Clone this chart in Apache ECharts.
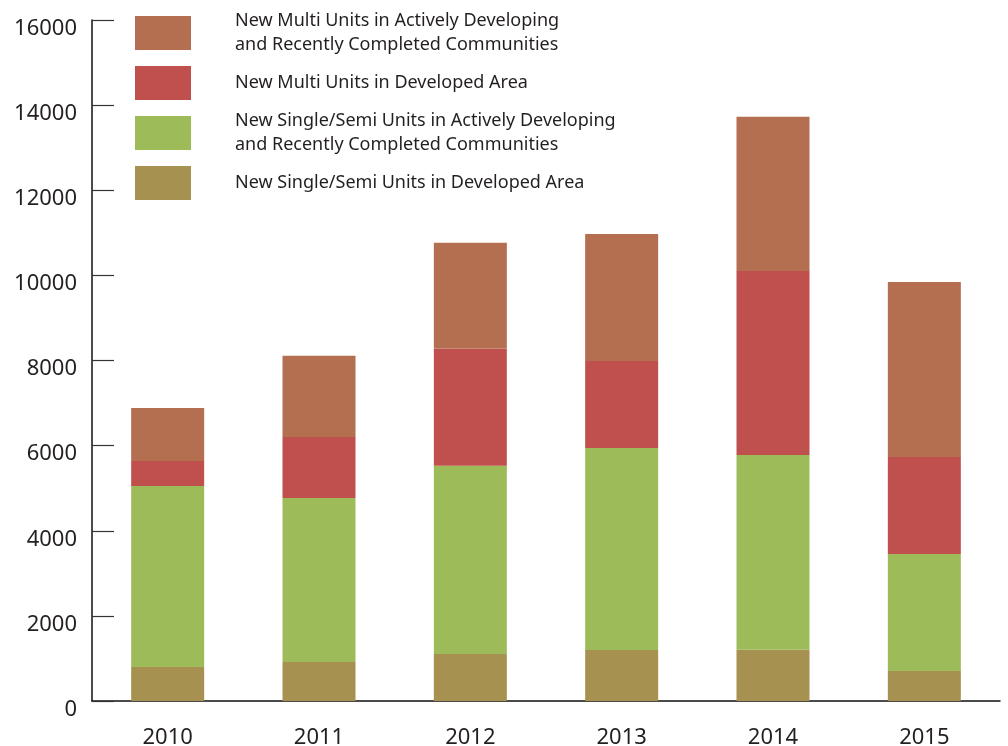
<!DOCTYPE html>
<html>
<head>
<meta charset="utf-8">
<script src="https://cdn.jsdelivr.net/npm/echarts@6/dist/echarts.min.js"></script>
<style>
  html, body { margin: 0; padding: 0; background: #fff; }
  #chart { width: 1008px; height: 746px; }
</style>
</head>
<body>
<div id="chart"></div>
<script>
// Housing completions by year, stacked by unit type and area
const years = ['2010', '2011', '2012', '2013', '2014', '2015'];
const singleDeveloped = [800, 915, 1105, 1200, 1205, 705];
const singleActive = [4250, 3855, 4425, 4745, 4575, 2750];
const multiDeveloped = [590, 1435, 2750, 2045, 4325, 2280];
const multiActive = [1245, 1905, 2485, 2985, 3620, 4110];

const names = {
  multiActive: 'New Multi Units in Actively Developing and Recently Completed Communities',
  multiDeveloped: 'New Multi Units in Developed Area',
  singleActive: 'New Single/Semi Units in Actively Developing and Recently Completed Communities',
  singleDeveloped: 'New Single/Semi Units in Developed Area'
};
const colors = {
  multiActive: '#b46f50',
  multiDeveloped: '#c0504d',
  singleActive: '#9dbb59',
  singleDeveloped: '#a69150'
};

const FONT = '"Noto Sans", sans-serif';
const TEXT = '#231f20';

function legendFor(key, top) {
  return {
    data: [names[key]],
    left: 135,
    top: top,
    padding: 0,
    orient: 'vertical',
    icon: 'rect',
    itemWidth: 56,
    itemHeight: 34,
    selectedMode: false,
    formatter: n => n.replace(' and Recently', '\nand Recently'),
    textStyle: {
      fontFamily: FONT,
      fontSize: 18,
      lineHeight: 24,
      color: TEXT,
      padding: [0, 0, 0, 39]
    }
  };
}

function barSeries(key, data) {
  return {
    name: names[key],
    type: 'bar',
    stack: 'units',
    barWidth: 73,
    data: data,
    itemStyle: { color: colors[key] },
    emphasis: { disabled: true }
  };
}

const chart = echarts.init(document.getElementById('chart'), null, { renderer: 'canvas' });
chart.setOption({
  animation: false,
  backgroundColor: '#ffffff',
  grid: { left: 92, right: 8, top: 20, bottom: 45, containLabel: false, outerBoundsMode: 'none' },
  legend: [
    legendFor('multiActive', 9),
    legendFor('multiDeveloped', 66),
    legendFor('singleActive', 109),
    legendFor('singleDeveloped', 166)
  ],
  xAxis: {
    type: 'category',
    data: years,
    boundaryGap: true,
    axisLine: { lineStyle: { color: '#111', width: 1.5 } },
    axisTick: { inside: true, length: 17, lineStyle: { color: '#222', width: 1.2 } },
    axisLabel: { fontFamily: FONT, fontSize: 22, color: TEXT, margin: 26 }
  },
  yAxis: {
    type: 'value',
    min: 0,
    max: 16000,
    interval: 2000,
    splitLine: { show: false },
    axisLine: { show: true, lineStyle: { color: '#111', width: 1.5 } },
    axisTick: { show: true, inside: true, length: 22, lineStyle: { color: '#333', width: 1.2 } },
    axisLabel: {
      fontFamily: FONT, fontSize: 22, color: TEXT, margin: 15,
      verticalAlign: 'top', lineHeight: 17,
      formatter: v => String(v)
    }
  },
  series: [
    barSeries('singleDeveloped', singleDeveloped),
    barSeries('singleActive', singleActive),
    barSeries('multiDeveloped', multiDeveloped),
    barSeries('multiActive', multiActive)
  ]
});
</script>
</body>
</html>
